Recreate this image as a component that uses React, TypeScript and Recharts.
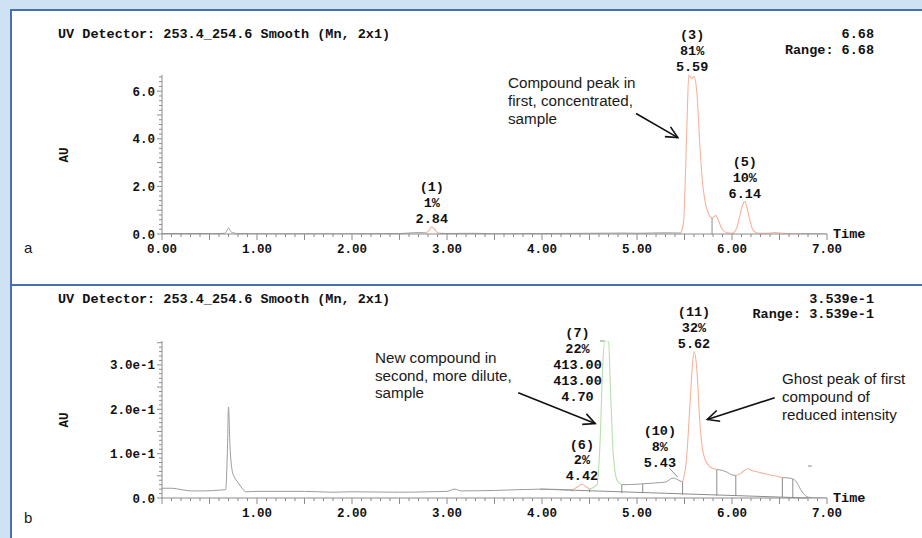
import React from "react";
import {
  ComposedChart,
  Line,
  XAxis,
  YAxis,
  ReferenceLine,
  ReferenceDot,
} from "recharts";

// ---- panel a : first, concentrated sample ----
const timeA = [
  0, 0.3, 0.6, 0.66, 0.68, 0.7, 0.72, 0.75, 0.8, 1.0, 1.5, 2.0, 2.5, 2.6, 2.7,
  2.76, 2.78, 2.81, 2.84, 2.87, 2.9, 2.92, 3.0, 3.3, 3.5, 4.0, 4.5, 4.85, 5.0,
  5.3, 5.46, 5.49, 5.51, 5.53, 5.545, 5.575, 5.6, 5.63, 5.66, 5.69, 5.72, 5.75,
  5.79, 5.83, 5.86, 5.89, 5.94, 6.0, 6.05, 6.08, 6.11, 6.135, 6.16, 6.19, 6.22,
  6.27, 6.35, 6.45, 6.55, 6.72, 7.0,
];
const auA = [
  0.02, 0.02, 0.02, 0.03, 0.12, 0.25, 0.12, 0.05, 0.02, 0.01, 0.01, 0.01, 0.02,
  0.04, 0.06, 0.05, 0.04, 0.15, 0.3, 0.2, 0.06, 0.03, 0.02, 0.03, 0.01, 0.02,
  0.03, 0.04, 0.03, 0.05, 0.04, 0.5, 2.5, 5.2, 6.68, 6.53, 6.61, 5.95, 3.84,
  2.15, 1.3, 0.88, 0.67, 0.77, 0.55, 0.25, 0.06, 0.03, 0.25, 0.73, 1.2, 1.36,
  1.05, 0.55, 0.17, 0.04, 0.03, 0.06, 0.03, 0.01, 0,
];
const peakWindowsA = [
  [2.78, 2.92],
  [5.46, 6.72],
];
const dropLinesA = [{ t: 5.79, base: 0, top: 0.67 }];
const peaksA = [
  { no: "(1)", lines: ["1%", "2.84"], t: 2.84, h: 0.3 },
  { no: "(3)", lines: ["81%", "5.59"], t: 5.58, h: 6.68 },
  { no: "(5)", lines: ["10%", "6.14"], t: 6.135, h: 1.36 },
];

// ---- panel b : second, more dilute sample ----
const timeB = [
  0, 0.1, 0.2, 0.3, 0.45, 0.62, 0.67, 0.69, 0.7, 0.715, 0.74, 0.76, 0.8, 0.85,
  0.88, 1.0, 1.5, 1.8, 2.0, 2.5, 2.8, 3.0, 3.08, 3.15, 3.5, 4.0, 4.32, 4.38,
  4.42, 4.46, 4.5, 4.58, 4.61, 4.64, 4.66, 4.7, 4.72, 4.75, 4.79, 4.84, 5.0,
  5.06, 5.2, 5.3, 5.38, 5.44, 5.48, 5.52, 5.56, 5.58, 5.6, 5.63, 5.66, 5.69,
  5.72, 5.77, 5.84, 5.9, 5.95, 6.0, 6.04, 6.09, 6.13, 6.17, 6.21, 6.28, 6.36,
  6.45, 6.53, 6.6, 6.64, 6.68, 6.72, 6.76, 6.8, 6.9, 7.0,
];
const auB = [
  0.022, 0.022, 0.019, 0.016, 0.016, 0.018, 0.019, 0.12, 0.205, 0.12, 0.06,
  0.048, 0.035, 0.02, 0.014, 0.015, 0.015, 0.013, 0.014, 0.013, 0.014, 0.015,
  0.02, 0.016, 0.017, 0.02, 0.018, 0.026, 0.031, 0.026, 0.02, 0.03, 0.12, 0.3,
  0.3539, 0.3539, 0.25, 0.1, 0.04, 0.03, 0.031, 0.032, 0.034, 0.036, 0.045,
  0.04, 0.036, 0.085, 0.22, 0.29, 0.33, 0.29, 0.175, 0.11, 0.085, 0.07, 0.064,
  0.062, 0.058, 0.052, 0.051, 0.055, 0.062, 0.066, 0.062, 0.058, 0.054, 0.05,
  0.046, 0.045, 0.043, 0.036, 0.02, 0.008, 0.002, 0, 0,
];
const orangeWindowsB = [
  [4.32, 4.5],
  [5.48, 5.84],
  [6.04, 6.53],
];
const greenWindowsB = [[4.5, 4.84]];
const dropLinesB = [
  { t: 4.32, base: 0.015, top: 0.019 },
  { t: 4.5, base: 0.013, top: 0.02 },
  { t: 4.84, base: 0.011, top: 0.03 },
  { t: 5.06, base: 0.011, top: 0.032 },
  { t: 5.48, base: 0.0075, top: 0.036 },
  { t: 5.84, base: 0.005, top: 0.064 },
  { t: 6.04, base: 0.005, top: 0.051 },
  { t: 6.53, base: 0.002, top: 0.046 },
  { t: 6.64, base: 0.002, top: 0.043 },
];
const baselineB = [
  { t: 3.98, y: 0.02 },
  { t: 6.8, y: 0 },
];
const markSegmentsB = [
  [{ t: 4.61, y: 0.3539 }, { t: 4.66, y: 0.3539 }],
  [{ t: 5.34, y: 0.067 }, { t: 5.43, y: 0.047 }],
  [{ t: 6.8, y: 0.072 }, { t: 6.84, y: 0.072 }],
];
const peaksB = [
  { no: "(6)", lines: ["2%", "4.42"], t: 4.42, h: 0.031 },
  { no: "(7)", lines: ["22%", "413.00", "413.00", "4.70"], t: 4.7, h: 0.3539 },
  { no: "(10)", lines: ["8%", "5.43"], t: 5.43, h: 0.045 },
  { no: "(11)", lines: ["32%", "5.62"], t: 5.6, h: 0.33 },
];

const xTicks = Array.from({ length: 71 }, (_, i) => i / 10);
const yTicksA = Array.from({ length: 34 }, (_, i) => (i * 2) / 10);
const yTicksB = Array.from({ length: 36 }, (_, i) => i / 100);

const AXIS = "#8c8c8c";
const TRACE = "#9c9c9c";
const ORANGE = "#f8b29c";
const GREEN = "#b6e0aa";
const BORDER = "#4670b0";

const mono = (size: number): React.CSSProperties => ({
  fontFamily: "'Liberation Mono', 'Courier New', monospace",
  fontWeight: "bold",
  fontSize: size,
  color: "#111",
  whiteSpace: "pre",
});
const sans: React.CSSProperties = {
  fontFamily: "'Liberation Sans', Arial, sans-serif",
  fontSize: 15.2,
  color: "#1a1a1a",
  lineHeight: "18px",
  whiteSpace: "pre",
};

const inside = (t: number, wins: number[][], strict: boolean) =>
  wins.some(([a, b]) => (strict ? t > a && t < b : t >= a && t <= b));

const rowsA = timeA.map((t, i) => ({
  t,
  base: inside(t, peakWindowsA, true) ? null : auA[i],
  peak: inside(t, peakWindowsA, false) ? auA[i] : null,
}));

const rowsB = timeB.map((t, i) => {
  const all = [...orangeWindowsB, ...greenWindowsB];
  return {
    t,
    base: inside(t, all, true) ? null : auB[i],
    peak: inside(t, orangeWindowsB, false) ? auB[i] : null,
    green: inside(t, greenWindowsB, false) ? auB[i] : null,
  };
});

// label offsets (px) from the peak apex
const labelShift: Record<string, [number, number]> = {
  "(7)": [-31, 55],
  "(10)": [-18, -16],
};

function XTick(props: any) {
  const { x, y, payload, showZero } = props;
  const v = payload.value;
  const tenths = Math.round(v * 10);
  const half = tenths % 5 === 0;
  const whole = tenths % 10 === 0;
  return (
    <g>
      <line x1={x} x2={x} y1={y} y2={y + (half ? 6 : 3)} stroke={AXIS} />
      {whole && (showZero || tenths > 0) && (
        <text
          x={x}
          y={y + 18.5}
          textAnchor="middle"
          style={{ ...mono(12.5), fill: "#111" } as any}
        >
          {v.toFixed(2)}
        </text>
      )}
    </g>
  );
}

function YTick(props: any) {
  const { x, y, payload, per, fmt } = props;
  const v = payload.value;
  const n = Math.round(v * per);
  const labelled = n % 10 === 0;
  const long = n % 5 === 0;
  return (
    <g>
      <line x1={x} x2={x - (long ? 5 : 3)} y1={y} y2={y} stroke={AXIS} />
      {labelled && (
        <text
          x={x - 7}
          y={y + 4.5}
          textAnchor="end"
          style={{ ...mono(12.5), fill: "#111" } as any}
        >
          {fmt(v)}
        </text>
      )}
    </g>
  );
}

function PeakLabel(props: any) {
  const { viewBox, no, lines } = props;
  const [dx, dy] = labelShift[no] || [0, -8.5];
  const cx = viewBox.x + viewBox.width / 2 + dx;
  const bottom = viewBox.y + viewBox.height / 2 + dy;
  const all = [no, ...lines];
  return (
    <g>
      {all.map((s: string, i: number) => (
        <text
          key={i}
          x={cx}
          y={bottom - (all.length - 1 - i) * 15.8 + 4.5}
          textAnchor="middle"
          style={{ ...mono(13.5), fill: "#111" } as any}
        >
          {s}
        </text>
      ))}
    </g>
  );
}

function Arrow(props: any) {
  const { x1, y1, x2, y2 } = props;
  const ang = Math.atan2(y2 - y1, x2 - x1);
  const L = 13;
  const a = 0.45;
  const p1 = [x2 - L * Math.cos(ang - a), y2 - L * Math.sin(ang - a)];
  const p2 = [x2 - L * Math.cos(ang + a), y2 - L * Math.sin(ang + a)];
  return (
    <g>
      <line x1={x1} y1={y1} x2={x2} y2={y2} stroke="#111" strokeWidth={1.6} />
      <polyline
        points={`${p1[0]},${p1[1]} ${x2},${y2} ${p2[0]},${p2[1]}`}
        fill="none"
        stroke="#111"
        strokeWidth={1.6}
      />
    </g>
  );
}

const arrowsA = [[{ t: 4.99, y: 5.06 }, { t: 5.43, y: 4.05 }]];
const arrowsB = [
  [{ t: 3.75, y: 0.237 }, { t: 4.56, y: 0.168 }],
  [{ t: 6.45, y: 0.226 }, { t: 5.74, y: 0.177 }],
];

function Txt({ left, right, top, style, children }: any) {
  return (
    <div style={{ position: "absolute", left, right, top, ...style }}>
      {children}
    </div>
  );
}

export default function App() {
  return (
    <div
      style={{
        position: "absolute",
        left: 0,
        top: 0,
        width: 922,
        height: 538,
        background: "#cfe2f3",
        overflow: "hidden",
      }}
    >
      <div
        style={{
          position: "absolute",
          left: 10,
          top: 9,
          width: 912,
          height: 275,
          background: "#fff",
          borderTop: `2px solid ${BORDER}`,
          borderLeft: `2px solid ${BORDER}`,
          boxSizing: "border-box",
        }}
      />
      <div
        style={{
          position: "absolute",
          left: 10,
          top: 284,
          width: 912,
          height: 254,
          background: "#fff",
          borderTop: `2px solid ${BORDER}`,
          borderLeft: `2px solid ${BORDER}`,
          boxSizing: "border-box",
        }}
      />

      {/* panel a */}
      <div style={{ position: "absolute", left: 0, top: 0 }}>
        <ComposedChart
          width={922}
          height={284}
          data={rowsA}
          margin={{ top: 75, right: 95, bottom: 20, left: 0 }}
        >
          <XAxis
            type="number"
            dataKey="t"
            domain={[0, 7]}
            ticks={xTicks}
            interval={0}
            tickSize={0}
            tickMargin={0}
            tickLine={false}
            height={30}
            stroke={AXIS}
            allowDataOverflow
            tick={(p: any) => <XTick {...p} showZero />}
          />
          <YAxis
            type="number"
            domain={[0, 6.68]}
            ticks={yTicksA}
            interval={0}
            width={162}
            tickSize={0}
            tickMargin={0}
            tickLine={false}
            stroke={AXIS}
            allowDataOverflow
            tick={(p: any) => (
              <YTick {...p} per={5} fmt={(v: number) => v.toFixed(1)} />
            )}
          />
          <Line
            dataKey="base"
            type="monotone"
            stroke={TRACE}
            strokeWidth={1}
            dot={false}
            connectNulls={false}
            isAnimationActive={false}
          />
          <Line
            dataKey="peak"
            type="monotone"
            stroke={ORANGE}
            strokeWidth={1.1}
            dot={false}
            connectNulls={false}
            isAnimationActive={false}
          />
          {dropLinesA.map((d, i) => (
            <ReferenceLine
              key={"da" + i}
              segment={[
                { x: d.t, y: d.base },
                { x: d.t, y: d.top },
              ]}
              stroke={AXIS}
            />
          ))}
          {arrowsA.map((s, i) => (
            <ReferenceLine
              key={"aa" + i}
              segment={[
                { x: s[0].t, y: s[0].y },
                { x: s[1].t, y: s[1].y },
              ]}
              shape={(p: any) => <Arrow {...p} />}
            />
          ))}
          {peaksA.map((p) => (
            <ReferenceDot
              key={p.no}
              x={p.t}
              y={p.h}
              r={1}
              fill="none"
              stroke="none"
              label={(lp: any) => (
                <PeakLabel viewBox={lp.viewBox} no={p.no} lines={p.lines} />
              )}
            />
          ))}
        </ComposedChart>
      </div>

      {/* panel b */}
      <div style={{ position: "absolute", left: 0, top: 284 }}>
        <ComposedChart
          width={922}
          height={254}
          data={rowsB}
          margin={{ top: 57, right: 95, bottom: 10, left: 0 }}
        >
          <XAxis
            type="number"
            dataKey="t"
            domain={[0, 7]}
            ticks={xTicks}
            interval={0}
            tickSize={0}
            tickMargin={0}
            tickLine={false}
            height={30}
            stroke={AXIS}
            allowDataOverflow
            tick={(p: any) => <XTick {...p} showZero={false} />}
          />
          <YAxis
            type="number"
            domain={[0, 0.3539]}
            ticks={yTicksB}
            interval={0}
            width={162}
            tickSize={0}
            tickMargin={0}
            tickLine={false}
            stroke={AXIS}
            allowDataOverflow
            tick={(p: any) => (
              <YTick
                {...p}
                per={100}
                fmt={(v: number) =>
                  v === 0 ? "0.0" : `${(v * 10).toFixed(1)}e-1`
                }
              />
            )}
          />
          <ReferenceLine
            segment={[
              { x: baselineB[0].t, y: baselineB[0].y },
              { x: baselineB[1].t, y: baselineB[1].y },
            ]}
            stroke={AXIS}
          />
          {dropLinesB.map((d, i) => (
            <ReferenceLine
              key={"db" + i}
              segment={[
                { x: d.t, y: d.base },
                { x: d.t, y: d.top },
              ]}
              stroke={AXIS}
            />
          ))}
          {markSegmentsB.map((s, i) => (
            <ReferenceLine
              key={"mb" + i}
              segment={[
                { x: s[0].t, y: s[0].y },
                { x: s[1].t, y: s[1].y },
              ]}
              stroke={AXIS}
            />
          ))}
          <Line
            dataKey="base"
            type="monotone"
            stroke={TRACE}
            strokeWidth={1}
            dot={false}
            connectNulls={false}
            isAnimationActive={false}
          />
          <Line
            dataKey="peak"
            type="monotone"
            stroke={ORANGE}
            strokeWidth={1.1}
            dot={false}
            connectNulls={false}
            isAnimationActive={false}
          />
          <Line
            dataKey="green"
            type="monotone"
            stroke={GREEN}
            strokeWidth={1.1}
            dot={false}
            connectNulls={false}
            isAnimationActive={false}
          />
          {arrowsB.map((s, i) => (
            <ReferenceLine
              key={"ab" + i}
              segment={[
                { x: s[0].t, y: s[0].y },
                { x: s[1].t, y: s[1].y },
              ]}
              shape={(p: any) => <Arrow {...p} />}
            />
          ))}
          {peaksB.map((p) => (
            <ReferenceDot
              key={p.no}
              x={p.t}
              y={p.h}
              r={1}
              fill="none"
              stroke="none"
              label={(lp: any) => (
                <PeakLabel viewBox={lp.viewBox} no={p.no} lines={p.lines} />
              )}
            />
          ))}
        </ComposedChart>
      </div>

      {/* panel a text */}
      <Txt left={58} top={27} style={{ ...mono(13.5), lineHeight: "16px" }}>
        UV Detector: 253.4_254.6 Smooth (Mn, 2x1)
      </Txt>
      <Txt right={48} top={27} style={{ ...mono(13.5), lineHeight: "16px", textAlign: "right" }}>
        6.68
      </Txt>
      <Txt right={48} top={43} style={{ ...mono(13.5), lineHeight: "16px", textAlign: "right" }}>
        Range: 6.68
      </Txt>
      <Txt
        left={57}
        top={147}
        style={{ ...mono(12.5), lineHeight: "16px", transform: "rotate(-90deg)" }}
      >
        AU
      </Txt>
      <Txt left={833} top={227} style={{ ...mono(13.5), lineHeight: "16px" }}>
        Time
      </Txt>
      <Txt left={24} top={239} style={{ ...sans, fontSize: 15 }}>
        a
      </Txt>
      <Txt left={508} top={74} style={sans}>
        {"Compound peak in\nfirst, concentrated,\nsample"}
      </Txt>

      {/* panel b text */}
      <Txt left={58} top={292} style={{ ...mono(13.5), lineHeight: "16px" }}>
        UV Detector: 253.4_254.6 Smooth (Mn, 2x1)
      </Txt>
      <Txt right={48} top={292} style={{ ...mono(13.5), lineHeight: "16px", textAlign: "right" }}>
        3.539e-1
      </Txt>
      <Txt right={48} top={307} style={{ ...mono(13.5), lineHeight: "16px", textAlign: "right" }}>
        Range: 3.539e-1
      </Txt>
      <Txt
        left={57}
        top={412}
        style={{ ...mono(12.5), lineHeight: "16px", transform: "rotate(-90deg)" }}
      >
        AU
      </Txt>
      <Txt left={833} top={491} style={{ ...mono(13.5), lineHeight: "16px" }}>
        Time
      </Txt>
      <Txt left={24} top={509} style={{ ...sans, fontSize: 15 }}>
        b
      </Txt>
      <Txt left={375} top={349} style={{ ...sans, lineHeight: "17.5px" }}>
        {"New compound in\nsecond, more dilute,\nsample"}
      </Txt>
      <Txt left={782} top={370} style={sans}>
        {"Ghost peak of first\ncompound of\nreduced intensity"}
      </Txt>
    </div>
  );
}
